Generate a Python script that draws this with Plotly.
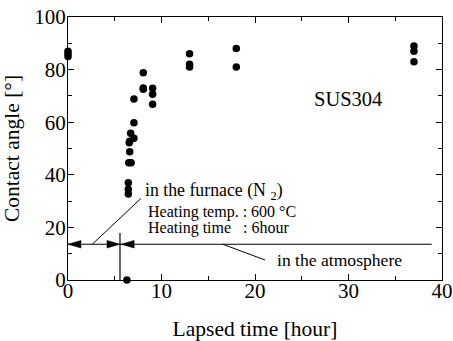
import plotly.graph_objects as go

# Data
time_h = [0, 0, 0,
          6.3,
          6.45, 6.45, 6.45,
          6.5, 6.75, 6.6, 6.55, 6.6,
          7.05, 6.7, 7.05, 7.05,
          8.05, 8.05, 8.05,
          9.05, 9.05, 9.05,
          13, 13, 13,
          18, 18,
          37, 37, 37]
angle = [85, 86, 87,
         0,
         37, 34.5, 32.7,
         44.6, 44.6, 48.8, 52.2, 52.8,
         53.9, 55.8, 59.8, 68.8,
         78.8, 72.5, 73,
         72.9, 70.6, 66.8,
         86, 82, 81,
         88, 81,
         89, 87, 83]

x_ticks = [0, 10, 20, 30, 40]
y_ticks = [0, 20, 40, 60, 80, 100]

# annotation geometry (data units)
arrow_y = 13.6
switch_x = 5.56
line_end_x = 38.9
vline_top = 17.9

FONT = "Liberation Serif"

fig = go.Figure()
fig.add_trace(go.Scatter(x=time_h, y=angle, mode="markers",
                         marker=dict(color="black", size=7.5),
                         showlegend=False, cliponaxis=False))

shapes = []
line = dict(color="black", width=1.2)
shapes.append(dict(type="line", xref="x", yref="y", x0=0, x1=line_end_x,
                   y0=arrow_y, y1=arrow_y, line=line))
shapes.append(dict(type="line", xref="x", yref="y", x0=switch_x, x1=switch_x,
                   y0=0, y1=vline_top, line=line))
shapes.append(dict(type="line", xref="x", yref="y", x0=2.6, x1=7.8,
                   y0=arrow_y, y1=31, line=dict(color="black", width=1)))
shapes.append(dict(type="line", xref="x", yref="y", x0=16.55, x1=21.07,
                   y0=arrow_y, y1=7.6, line=dict(color="black", width=1)))
L, W = 13, 3.8
def head(xa, direction):
    if direction == "left":
        path = f"M0,0 L{L},{W} L{L},{-W} Z"
    else:
        path = f"M0,0 L{-L},{W} L{-L},{-W} Z"
    return dict(type="path", xref="x", yref="y", xsizemode="pixel",
                ysizemode="pixel", xanchor=xa, yanchor=arrow_y, path=path,
                fillcolor="black", line=dict(color="black", width=0.5))
shapes.append(head(0, "left"))
shapes.append(head(switch_x, "right"))
shapes.append(head(switch_x + 0.12, "left"))

annotations = [
    dict(x=29.9, y=68.8, text="SUS304", showarrow=False, xanchor="center",
         yanchor="middle", font=dict(size=20.5, family=FONT, color="black")),
    dict(x=8.0, y=33.8, text="in the furnace (N <sub>2</sub>)", showarrow=False,
         xanchor="left", yanchor="middle", font=dict(size=17.8, family=FONT, color="black")),
    dict(x=8.35, y=25.9, text="Heating temp. : 600 °C", showarrow=False,
         xanchor="left", yanchor="middle", font=dict(size=16, family=FONT, color="black")),
    dict(x=8.35, y=19.8, text="Heating time\u00a0\u00a0\u00a0: 6hour", showarrow=False,
         xanchor="left", yanchor="middle", font=dict(size=16, family=FONT, color="black")),
    dict(x=22.1, y=7.6, text="in the atmosphere", showarrow=False,
         xanchor="left", yanchor="middle", font=dict(size=17.6, family=FONT, color="black")),
]

axis_common = dict(showline=True, linecolor="black", linewidth=1.2, mirror="ticks",
                   ticks="inside", ticklen=6, tickwidth=1.2, tickcolor="black",
                   showgrid=False, zeroline=False, automargin=False,
                   tickfont=dict(size=21, family=FONT, color="black"),
                   minor=dict(ticks="inside", ticklen=4, tickwidth=1.2, tickcolor="black"))

fig.update_layout(
    width=453, height=341,
    margin=dict(l=68, r=11, t=17, b=61),
    paper_bgcolor="white", plot_bgcolor="white",
    font=dict(family=FONT, color="black"),
    shapes=shapes, annotations=annotations,
    xaxis=dict(range=[0, 40], tickvals=x_ticks, ticktext=[str(v) for v in x_ticks],
               ticklabelstandoff=-8,
               title=dict(text="Lapsed time [hour]", font=dict(size=21.5, family=FONT, color="black"),
                          standoff=18),
               **axis_common),
    yaxis=dict(range=[0, 100], tickvals=y_ticks, ticktext=[str(v) for v in y_ticks],
               ticklabelstandoff=-3,
               title=dict(text="Contact angle [°]", font=dict(size=21.5, family=FONT, color="black"),
                          standoff=8),
               **axis_common),
)
fig.update_xaxes(minor_tickvals=[5, 15, 25, 35])
fig.update_yaxes(minor_tickvals=[10, 30, 50, 70, 90])

fig.write_html("out.html")
